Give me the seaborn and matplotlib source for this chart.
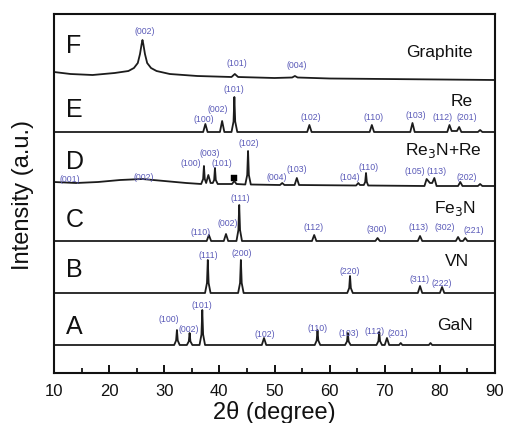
import numpy as np
import pandas as pd
import matplotlib
matplotlib.use("Agg")
import matplotlib.pyplot as plt
import seaborn as sns

# ---------------- data ----------------
# Intensities in arbitrary units above each pattern's own baseline.
A_2theta = [10, 31.8, 32.15, 32.3, 32.45, 32.8, 34.1, 34.45, 34.6, 34.75, 35.1,
            36.4, 36.75, 36.9, 37.05, 37.4, 47.7, 48.1, 48.5, 57.3, 57.65, 57.8,
            57.95, 58.3, 62.8, 63.15, 63.3, 63.45, 63.8, 68.5, 68.85, 69.0, 69.15,
            69.5, 70.0, 70.4, 70.8, 72.6, 72.9, 73.2, 78.0, 78.3, 78.6, 90]
A_int = [0, 0, 4.5, 15, 4.5, 0, 0, 3.6, 12, 3.6, 0,
         0, 10.5, 35, 10.5, 0, 0, 7, 0, 0, 4.5, 15,
         4.5, 0, 0, 3.6, 12, 3.6, 0, 0, 3.9, 13, 3.9,
         0, 0, 7, 0, 0, 2, 0, 0, 2, 0, 0]

B_2theta = [10, 37.4, 37.75, 37.9, 38.05, 38.4, 43.4, 43.75, 43.9, 44.05, 44.4,
            63.2, 63.55, 63.7, 63.85, 64.2, 76.0, 76.4, 76.8, 80.0, 80.4, 80.8, 90]
B_int = [0, 0, 10, 33, 10, 0, 0, 10, 33, 10, 0,
         0, 5, 17, 5, 0, 0, 7, 0, 0, 6, 0, 0]

C_2theta = [10, 37.7, 38.1, 38.5, 40.8, 41.2, 41.6, 43.1, 43.45, 43.6, 43.75, 44.1,
            56.8, 57.2, 57.6, 68.3, 68.7, 69.1, 76.0, 76.4, 76.8, 82.9, 83.3, 83.7,
            84.2, 84.6, 85.0, 90]
C_int = [0, 0, 6, 0, 0, 7, 0, 0, 11, 36, 11, 0,
         0, 6, 0, 0, 3, 0, 0, 5, 0, 0, 4, 0,
         0, 3, 0, 0]

D_2theta = [10, 14, 18, 22, 26, 30, 34, 36.7, 37.05, 37.2, 37.35, 37.6, 38.0, 38.4,
            38.8, 39.05, 39.2, 39.35, 39.7, 42.3, 42.7, 43.1, 44.7, 45.05, 45.2,
            45.35, 45.7, 51.0, 51.4, 51.8, 53.65, 54.05, 54.45, 64.8, 65.2, 65.5,
            66.2, 66.45, 66.6, 66.75, 67.0, 77.2, 77.6, 78.2, 78.6, 79.0, 79.4,
            83.3, 83.7, 84.1, 86.9, 87.3, 87.7, 90]
D_int = [4, 3, 4, 6, 7, 5, 3, 2, 7, 20, 7, 3, 11, 3,
         3, 6, 18, 6, 2, 2, 5, 2, 1.5, 11, 35,
         11, 1.5, 1, 3, 1, 1, 8, 1, 0.5, 3, 1,
         1, 4, 13, 4, 0.5, 0, 7, 3, 3, 8, 0,
         0, 4, 0, 0, 2, 0, 0]
D_marker_2theta = [42.7]
D_marker_int = [8]

E_2theta = [10, 37.06, 37.46, 37.86, 40.1, 40.5, 40.9, 42.2, 42.57, 42.72, 42.87,
            43.25, 55.93, 56.33, 56.73, 67.26, 67.66, 68.06, 74.63, 75.03, 75.43,
            81.34, 81.74, 82.14, 83.1, 83.5, 83.9, 86.9, 87.3, 87.7, 90]
E_int = [0, 0, 8, 0, 0, 11, 0, 0, 10.5, 35, 10.5,
         0, 0, 7, 0, 0, 7, 0, 0, 9, 0,
         0, 7, 1, 1, 5, 0, 0, 2, 0, 0]

F_2theta = [10, 13, 17, 21, 23.5, 24.5, 25.2, 25.6, 25.9, 26.05, 26.2, 26.5, 26.9,
            27.6, 28.6, 31, 36, 42.2, 42.8, 43.4, 50, 53.2, 53.7, 54.2, 60, 70, 90]
F_int = [8, 6, 5, 7, 9, 12, 17, 26, 36, 40, 36, 26, 17,
         12, 9, 6, 4, 3, 6, 3, 2, 2.5, 4, 2.5, 1.5, 1, 0]

panel_letters = ["A", "B", "C", "D", "E", "F"]
sample_names = ["GaN", "VN", "Fe$_3$N", "Re$_3$N+Re", "Re", "Graphite"]

# hkl labels: (text, 2theta, height above baseline)
A_hkl = [("(100)", 30.9, 25), ("(002)", 34.4, 16), ("(101)", 36.9, 40), ("(102)", 48.3, 11),
         ("(110)", 57.9, 17), ("(103)", 63.4, 12), ("(112)", 68.2, 14), ("(201)", 72.3, 12)]
B_hkl = [("(111)", 38.0, 37), ("(200)", 44.1, 40), ("(220)", 63.7, 21), ("(311)", 76.3, 13),
         ("(222)", 80.4, 9)]
C_hkl = [("(110)", 36.5, 9), ("(002)", 41.6, 18), ("(111)", 43.8, 43), ("(112)", 57.1, 14),
         ("(300)", 68.6, 12), ("(113)", 76.1, 14), ("(302)", 80.9, 14), ("(221)", 86.1, 11)]
D_hkl = [("(001)", 12.8, 6), ("(002)", 26.2, 9), ("(100)", 34.8, 22), ("(003)", 38.3, 33),
         ("(101)", 40.4, 23), ("(102)", 45.4, 43), ("(004)", 50.4, 8), ("(103)", 54.1, 17),
         ("(104)", 63.6, 9), ("(110)", 67.0, 18), ("(105)", 75.5, 15), ("(113)", 79.4, 15),
         ("(202)", 84.9, 8)]
E_hkl = [("(100)", 37.2, 13), ("(002)", 39.7, 23), ("(101)", 42.7, 43), ("(102)", 56.6, 15),
         ("(110)", 67.9, 15), ("(103)", 75.6, 17), ("(112)", 80.4, 15), ("(201)", 84.9, 15)]
F_hkl = [("(002)", 26.5, 48), ("(101)", 43.1, 17), ("(004)", 54.0, 14)]

patterns = [(A_2theta, A_int, A_hkl), (B_2theta, B_int, B_hkl), (C_2theta, C_int, C_hkl),
            (D_2theta, D_int, D_hkl), (E_2theta, E_int, E_hkl), (F_2theta, F_int, F_hkl)]

# ---------------- layout / style ----------------
offsets = [28, 80, 132, 187, 241, 293]
letter_y = [18, 23, 21, 24, 22, 34]       # relative to baseline
name_y = [20, 31, 33, 36, 30, 28]
name_x = [85.9, 85.3, 86.6, 87.6, 85.9, 86.0]

sns.set_style("ticks")
plt.rcParams["font.family"] = ["Liberation Sans", "DejaVu Sans"]

W, H = 505, 423
fig = plt.figure(figsize=(W / 100, H / 100), dpi=100)
ax_l, ax_r, ax_t, ax_b = 54, 495, 14, 373
ax = fig.add_axes([ax_l / W, (H - ax_b) / H, (ax_r - ax_l) / W, (ax_b - ax_t) / H])

line_c = "#1c1c1c"
hkl_c = "#5a5ab8"

for (tt, inten, hkl), off, let, ly, nm, ny, nx in zip(patterns, offsets, panel_letters,
                                                      letter_y, sample_names, name_y, name_x):
    df = pd.DataFrame({"two_theta": tt, "intensity": np.array(inten, float) + off})
    sns.lineplot(data=df, x="two_theta", y="intensity", ax=ax, color=line_c,
                 linewidth=1.3, estimator=None, sort=False, legend=False)
    for txt, px, py in hkl:
        ax.text(px, off + py, txt, color=hkl_c, fontsize=6.3, ha="center", va="center")
    ax.text(12.2, off + ly, let, fontsize=18, ha="left", va="center", color="#111111")
    ax.text(nx, off + ny, nm, fontsize=12.5, ha="right", va="center", color="#111111")

sns.scatterplot(x=D_marker_2theta, y=np.array(D_marker_int) + offsets[3], ax=ax,
                marker="s", s=14, color="black", edgecolor="black", legend=False)

ax.set_xlim(10, 90)
ax.set_ylim(0, ax_b - ax_t)
ax.set_xticks(np.arange(10, 91, 10))
ax.set_xticks(np.arange(15, 90, 10), minor=True)
ax.set_yticks([])
ax.tick_params(axis="x", which="major", direction="in", length=6, width=1.4,
               labelsize=12, pad=8, colors="#111111")
ax.tick_params(axis="x", which="minor", direction="in", length=3.5, width=1.4)
for s in ax.spines.values():
    s.set_visible(True)
    s.set_linewidth(1.5)
    s.set_color("#111111")

ax.set_xlabel("2θ (degree)", fontsize=17, color="#111111")
ax.xaxis.set_label_coords(0.5, -(401 - ax_b) / (ax_b - ax_t))
ax.xaxis.label.set_verticalalignment("top")
ax.set_ylabel("Intensity (a.u.)", fontsize=17, color="#111111")
ax.yaxis.set_label_coords(-(ax_l - 34) / (ax_r - ax_l), 0.5 + (373 - 195 - 179.5) / 359)

fig.savefig("out.png", dpi=100, facecolor="white")
